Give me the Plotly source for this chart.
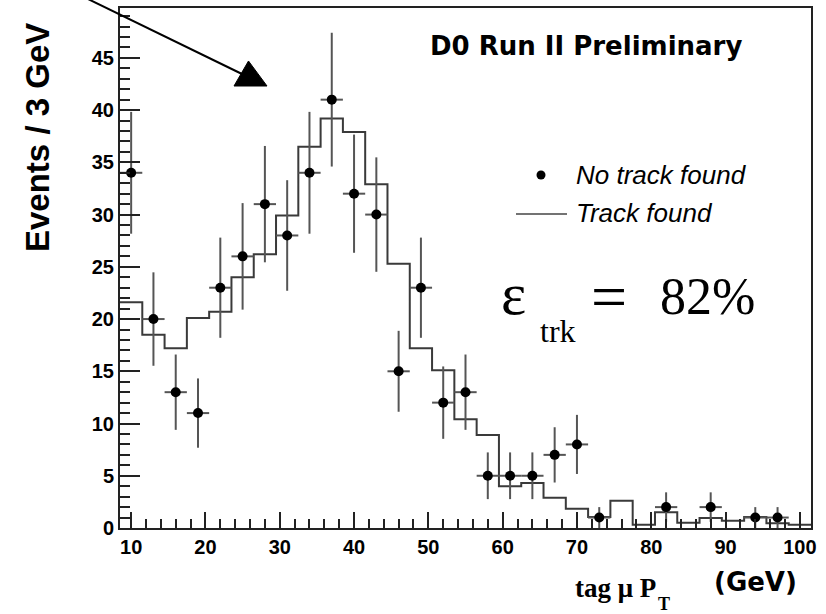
import math
import plotly.graph_objects as go

# Tag-muon pT spectrum, 3 GeV bins (bin centres in GeV)
BIN_WIDTH = 3.0
bin_centers = [10, 13, 16, 19, 22, 25, 28, 31, 34, 37, 40, 43, 46, 49, 52, 55,
               58, 61, 64, 67, 70, 73, 76, 79, 82, 85, 88, 91, 94, 97, 100]

# Events with no matched track (counts per bin)
no_track = [34, 20, 13, 11, 23, 26, 31, 28, 34, 41, 32, 30, 15, 23, 12, 13,
            5, 5, 5, 7, 8, 1, 0, 0, 2, 0, 2, 0, 1, 1, 0]

# Events with a matched track, normalised to the same total
track_found = [21.6, 18.5, 17.2, 20.1, 20.7, 24.0, 26.2, 29.9, 36.5, 39.2, 37.9,
               32.9, 25.3, 17.2, 15.1, 10.4, 8.9, 4.0, 4.3, 2.9, 1.85, 1.05,
               2.6, 0.3, 1.5, 0.5, 0.95, 0.7, 1.05, 0.45, 0.3]

x_ticks = [10, 20, 30, 40, 50, 60, 70, 80, 90, 100]
y_ticks = [0, 5, 10, 15, 20, 25, 30, 35, 40, 45]

W, H = 826, 614
ML, MR, MT, MB = 120, 15, 8, 86
PW, PH = W - ML - MR, H - MT - MB


def px(x):
    return (x - ML) / PW


def py(y):
    return (H - MB - y) / PH


x_lo = bin_centers[0] - BIN_WIDTH / 2
x_hi = bin_centers[-1] + BIN_WIDTH / 2
y_hi = 1.05 * max(n + math.sqrt(n) for n in no_track)

# step outline of the "track found" histogram
edges = [c - BIN_WIDTH / 2 for c in bin_centers] + [x_hi]
step_y = track_found + [track_found[-1]]

pts = [(c, n) for c, n in zip(bin_centers, no_track) if n > 0]
px_c = [p[0] for p in pts]
px_n = [p[1] for p in pts]

fig = go.Figure()
fig.add_trace(go.Scatter(
    x=edges, y=step_y, mode="lines", line=dict(shape="hv", color="#3a3a3a", width=2),
    hoverinfo="skip", showlegend=False,
))
fig.add_trace(go.Scatter(
    x=px_c, y=px_n, mode="markers",
    marker=dict(symbol="circle", size=10, color="black"),
    error_x=dict(type="constant", value=BIN_WIDTH / 2, color="#555555", thickness=2, width=0),
    error_y=dict(type="data", array=[math.sqrt(n) for n in px_n], color="#555555",
                 thickness=2, width=0),
    showlegend=False,
))

tickfont = dict(family="Liberation Sans", size=20, color="black", weight="bold")
fig.update_xaxes(
    range=[x_lo, x_hi], tickvals=x_ticks, ticks="inside", ticklen=16, tickwidth=2,
    tickcolor="#222", showline=True, linecolor="#222", linewidth=2, mirror=True,
    showgrid=False, zeroline=False, tickfont=tickfont, automargin=False,
    minor=dict(dtick=2, tick0=0, ticks="inside", ticklen=9, tickwidth=2, tickcolor="#222"),
)
fig.update_yaxes(
    range=[0, y_hi], tickvals=y_ticks, ticks="inside", ticklen=20, tickwidth=2,
    tickcolor="#222", showline=True, linecolor="#222", linewidth=2, mirror=True,
    showgrid=False, zeroline=False, tickfont=tickfont, automargin=False,
    minor=dict(dtick=1, tick0=0, ticks="inside", ticklen=10, tickwidth=2, tickcolor="#222"),
)

ann = []
ann.append(dict(text="Events / 3 GeV", textangle=-90, x=px(37), y=py(138),
                xref="paper", yref="paper", xanchor="center", yanchor="middle",
                showarrow=False,
                font=dict(family="Liberation Sans", size=33, color="black", weight="bold")))
ann.append(dict(text="D0 Run II Preliminary", x=px(428), y=py(46), xref="paper", yref="paper",
                xanchor="left", yanchor="middle", showarrow=False,
                font=dict(family="DejaVu Sans", size=26, color="black", weight="bold")))
legend_font = dict(family="Liberation Sans", size=26, color="black", style="italic")
ann.append(dict(text="No track found", x=px(574), y=py(175), xref="paper", yref="paper",
                xanchor="left", yanchor="middle", showarrow=False, font=legend_font))
ann.append(dict(text="Track found", x=px(574), y=py(213), xref="paper", yref="paper",
                xanchor="left", yanchor="middle", showarrow=False, font=legend_font))
# efficiency label
serif = "Liberation Serif"
ann.append(dict(text="ε", x=px(499), y=py(294), xref="paper", yref="paper",
                xanchor="left", yanchor="middle", showarrow=False,
                font=dict(family=serif, size=60, color="black")))
ann.append(dict(text="trk", x=px(538), y=py(331), xref="paper", yref="paper",
                xanchor="left", yanchor="middle", showarrow=False,
                font=dict(family=serif, size=32, color="black")))
ann.append(dict(text="=", x=px(589), y=py(296), xref="paper", yref="paper",
                xanchor="left", yanchor="middle", showarrow=False,
                font=dict(family=serif, size=64, color="black")))
ann.append(dict(text="82%", x=px(658), y=py(296), xref="paper", yref="paper",
                xanchor="left", yanchor="middle", showarrow=False,
                font=dict(family=serif, size=52, color="black")))
# x-axis title
ann.append(dict(text="tag μ P", x=px(573), y=py(588), xref="paper", yref="paper",
                xanchor="left", yanchor="middle", showarrow=False,
                font=dict(family=serif, size=27, color="black", weight="bold")))
ann.append(dict(text="T", x=px(656), y=py(604), xref="paper", yref="paper",
                xanchor="left", yanchor="middle", showarrow=False,
                font=dict(family=serif, size=18, color="black", weight="bold")))
ann.append(dict(text="(GeV)", x=px(712), y=py(582), xref="paper", yref="paper",
                xanchor="left", yanchor="middle", showarrow=False,
                font=dict(family="DejaVu Sans", size=26, color="black", weight="bold")))

shapes = []
# legend symbols
shapes.append(dict(type="circle", xref="paper", yref="paper", x0=px(536.5), x1=px(545.5),
                   y0=py(179.5), y1=py(170.5), fillcolor="black", line=dict(width=0)))
shapes.append(dict(type="line", xref="paper", yref="paper", x0=px(516), x1=px(567),
                   y0=py(214), y1=py(214), line=dict(color="#444", width=1.5)))
# pointer arrow
shapes.append(dict(type="line", xref="paper", yref="paper", x0=px(88), y0=py(-1),
                   x1=px(242), y1=py(74), line=dict(color="black", width=2)))
tri = [(248.5, 61), (234, 86), (267, 86)]
path = "M " + " L ".join(f"{px(a):.5f},{py(b):.5f}" for a, b in tri) + " Z"
shapes.append(dict(type="path", xref="paper", yref="paper", path=path,
                   fillcolor="black", line=dict(color="black", width=1)))

fig.update_layout(
    width=W, height=H, margin=dict(l=ML, r=MR, t=MT, b=MB, pad=0),
    paper_bgcolor="white", plot_bgcolor="white",
    annotations=ann, shapes=shapes, showlegend=False,
)

fig.write_html("out.html")
